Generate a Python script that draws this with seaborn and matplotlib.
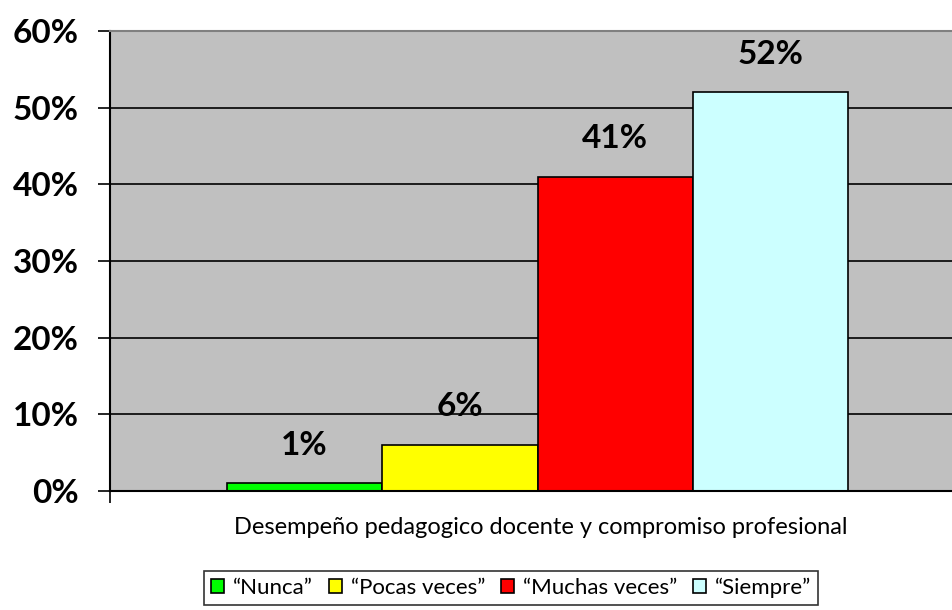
import matplotlib
matplotlib.use("Agg")
import matplotlib.pyplot as plt
import pandas as pd
import seaborn as sns

# datos
grupo = "Desempeño pedagogico docente y compromiso profesional"
respuestas = ["“Nunca”", "“Pocas veces”", "“Muchas veces”", "“Siempre”"]
valores = [1, 6, 41, 52]
colores = ["#00FF00", "#FFFF00", "#FF0000", "#CCFFFF"]
yticks = [0, 10, 20, 30, 40, 50, 60]

df = pd.DataFrame({
    "grupo": [grupo] * len(respuestas),
    "respuesta": respuestas,
    "valor": valores
})

sns.set_style("white")
plt.rcParams["font.family"] = ["Lato", "DejaVu Sans"]
plt.rcParams["text.color"] = "black"
plt.rcParams["xtick.color"] = "black"
plt.rcParams["ytick.color"] = "black"

fig = plt.figure(figsize=(9.52, 6.10), dpi=100)
ax = fig.add_axes([110 / 952, 119 / 610, 855 / 952, 460 / 610])

sns.barplot(
    data=df,
    x="grupo",
    y="valor",
    hue="respuesta",
    palette=colores,
    width=0.727,
    edgecolor="black",
    linewidth=1.2,
    saturation=1,
    ax=ax
)

ax.set_facecolor("#C0C0C0")
ax.set_ylim(0, 60)
ax.set_xlim(-0.5, 0.5)
ax.set_yticks(yticks)
ax.set_yticklabels([f"{t}%" for t in yticks], fontsize=24, fontweight="bold")
ax.set_xticks([-0.5])
ax.set_xticklabels([""])
ax.tick_params(
    axis="both",
    direction="out",
    length=8.5,
    width=1.2,
    color="black",
    left=True,
    bottom=True
)
ax.tick_params(axis="y", pad=14)

ax.yaxis.grid(True, color="black", linewidth=1.2)
ax.set_axisbelow(True)

for side in ["left", "bottom"]:
    ax.spines[side].set_color("black")
    ax.spines[side].set_linewidth(1.5)
ax.spines["top"].set_color("#808080")
ax.spines["top"].set_linewidth(1.5)
ax.spines["right"].set_visible(False)

for cont, v in zip(ax.containers, valores):
    ax.bar_label(
        cont,
        labels=[f"{v}%"],
        padding=17,
        fontsize=24,
        fontweight="bold"
    )

ax.set_ylabel("")
ax.set_xlabel("")
fig.text(541 / 952, 1 - 528 / 610, grupo, ha="center", va="center", fontsize=17)

handles, labels = ax.get_legend_handles_labels()
ax.legend(
    handles,
    labels,
    loc="center",
    bbox_to_anchor=(511 / 952, 1 - 588 / 610),
    bbox_transform=fig.transFigure,
    ncol=4,
    frameon=True,
    fancybox=False,
    edgecolor="black",
    fontsize=16,
    handlelength=0.6,
    handleheight=0.6,
    handletextpad=0.4,
    columnspacing=0.7,
    borderpad=0.3
)
ax.get_legend().get_frame().set_linewidth(1.2)

fig.savefig("out.png", dpi=100)
